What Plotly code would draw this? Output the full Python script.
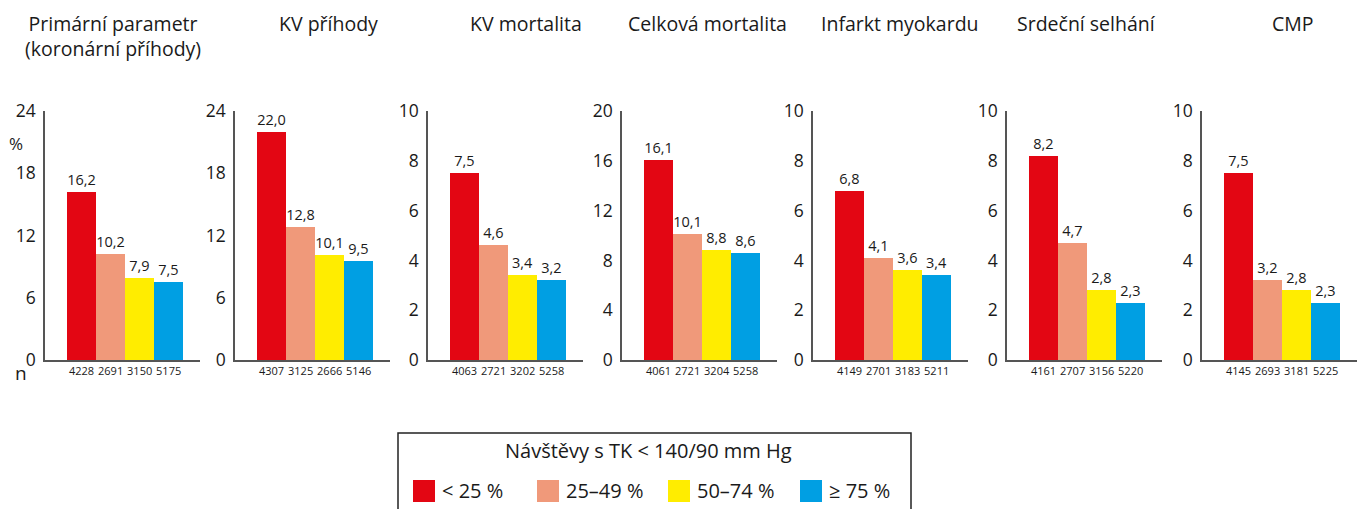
import plotly.graph_objects as go

W, H = 1362, 509

titles = ["Primární parametr<br>(koronární příhody)", "KV příhody", "KV mortalita",
          "Celková mortalita", "Infarkt myokardu", "Srdeční selhání", "CMP"]
title_x = [113, 328, 526, 707, 900, 1086, 1293]

values = [
    [16.2, 10.2, 7.9, 7.5],
    [22.0, 12.8, 10.1, 9.5],
    [7.5, 4.6, 3.4, 3.2],
    [16.1, 10.1, 8.8, 8.6],
    [6.8, 4.1, 3.6, 3.4],
    [8.2, 4.7, 2.8, 2.3],
    [7.5, 3.2, 2.8, 2.3],
]
counts = [
    ["4228", "2691", "3150", "5175"],
    ["4307", "3125", "2666", "5146"],
    ["4063", "2721", "3202", "5258"],
    ["4061", "2721", "3204", "5258"],
    ["4149", "2701", "3183", "5211"],
    ["4161", "2707", "3156", "5220"],
    ["4145", "2693", "3181", "5225"],
]
y_max = [24, 24, 10, 20, 10, 10, 10]
y_step = [6, 6, 2, 4, 2, 2, 2]

groups = ["< 25 %", "25–49 %", "50–74 %", "≥ 75 %"]
colors = ["#E30613", "#F0997A", "#FFED00", "#009FE3"]
legend_title = "Návštěvy s TK < 140/90 mm Hg"

axis_left = [45, 235, 428, 622, 813, 1007, 1202]
axis_width = 155
plot_top, plot_bottom = 111, 360

FONT = "Open Sans"
TXT = "#1a1a1a"


def px(x):
    return x / W


def py(y):
    return 1 - y / H


fig = go.Figure()
layout = {}
annotations = []
shapes = []

for i in range(7):
    sfx = "" if i == 0 else str(i + 1)
    xa, ya = "x" + sfx, "y" + sfx
    fig.add_trace(go.Bar(
        x=list(range(4)), y=values[i], width=1,
        marker=dict(color=colors, line=dict(width=0)),
        text=[f"{v:.1f}".replace(".", ",") for v in values[i]],
        textposition="outside", cliponaxis=False,
        textfont=dict(family=FONT, size=14.5, color=TXT),
        xaxis=xa, yaxis=ya, showlegend=False, hoverinfo="skip",
    ))
    layout["xaxis" + sfx] = dict(
        domain=[px(axis_left[i]), px(axis_left[i] + axis_width)],
        anchor=ya, range=[-1.26, 4.08], automargin=False,
        tickmode="array", tickvals=list(range(4)), ticktext=counts[i],
        tickfont=dict(family=FONT, size=11, color=TXT),
        showline=True, linecolor="#555555", linewidth=1.5,
        showgrid=False, zeroline=False, ticks="", fixedrange=True,
    )
    layout["yaxis" + sfx] = dict(
        domain=[py(plot_bottom), py(plot_top)],
        anchor=xa, range=[0, y_max[i]], automargin=False,
        tickmode="linear", tick0=0, dtick=y_step[i],
        tickfont=dict(family=FONT, size=17.5, color=TXT),
        showline=True, linecolor="#555555", linewidth=1.5,
        showgrid=False, zeroline=False, ticks="", ticklabelstandoff=4,
        fixedrange=True,
    )
    annotations.append(dict(
        text=titles[i], x=px(title_x[i]), y=py(8), xref="paper", yref="paper",
        xanchor="center", yanchor="top", showarrow=False,
        font=dict(family=FONT, size=19.5, color=TXT), align="center",
    ))

annotations.append(dict(text="%", x=px(16), y=py(143), xref="paper", yref="paper",
                        xanchor="center", yanchor="middle", showarrow=False,
                        font=dict(family=FONT, size=17, color=TXT)))
annotations.append(dict(text="n", x=px(21), y=py(373), xref="paper", yref="paper",
                        xanchor="center", yanchor="middle", showarrow=False,
                        font=dict(family=FONT, size=19, color=TXT)))

# legend box
box_l, box_r, box_t = 398, 911, 433
shapes.append(dict(type="rect", xref="paper", yref="paper",
                   x0=px(box_l), x1=px(box_r), y0=py(box_t), y1=py(H + 10),
                   line=dict(color="#222222", width=1.5), fillcolor="rgba(0,0,0,0)"))
annotations.append(dict(text=legend_title, x=px(648), y=py(450),
                        xref="paper", yref="paper", xanchor="center", yanchor="middle",
                        showarrow=False, font=dict(family=FONT, size=20, color=TXT)))
sw_x = [413, 537, 668, 800]
for k in range(4):
    shapes.append(dict(type="rect", xref="paper", yref="paper",
                       x0=px(sw_x[k]), x1=px(sw_x[k] + 22), y0=py(502), y1=py(480),
                       line=dict(width=0), fillcolor=colors[k]))
    annotations.append(dict(text=groups[k], x=px(sw_x[k] + 27), y=py(490),
                            xref="paper", yref="paper", xanchor="left", yanchor="middle",
                            showarrow=False, font=dict(family=FONT, size=20, color=TXT)))

fig.update_layout(
    **layout,
    width=W, height=H, margin=dict(l=0, r=0, t=0, b=0, pad=0, autoexpand=False),
    paper_bgcolor="white", plot_bgcolor="white",
    bargap=0, annotations=annotations, shapes=shapes, showlegend=False,
    font=dict(family=FONT, color=TXT),
)

fig.write_html("out.html", config={"displayModeBar": False},
               post_script="document.body.style.margin='0';document.body.style.overflow='hidden';")
